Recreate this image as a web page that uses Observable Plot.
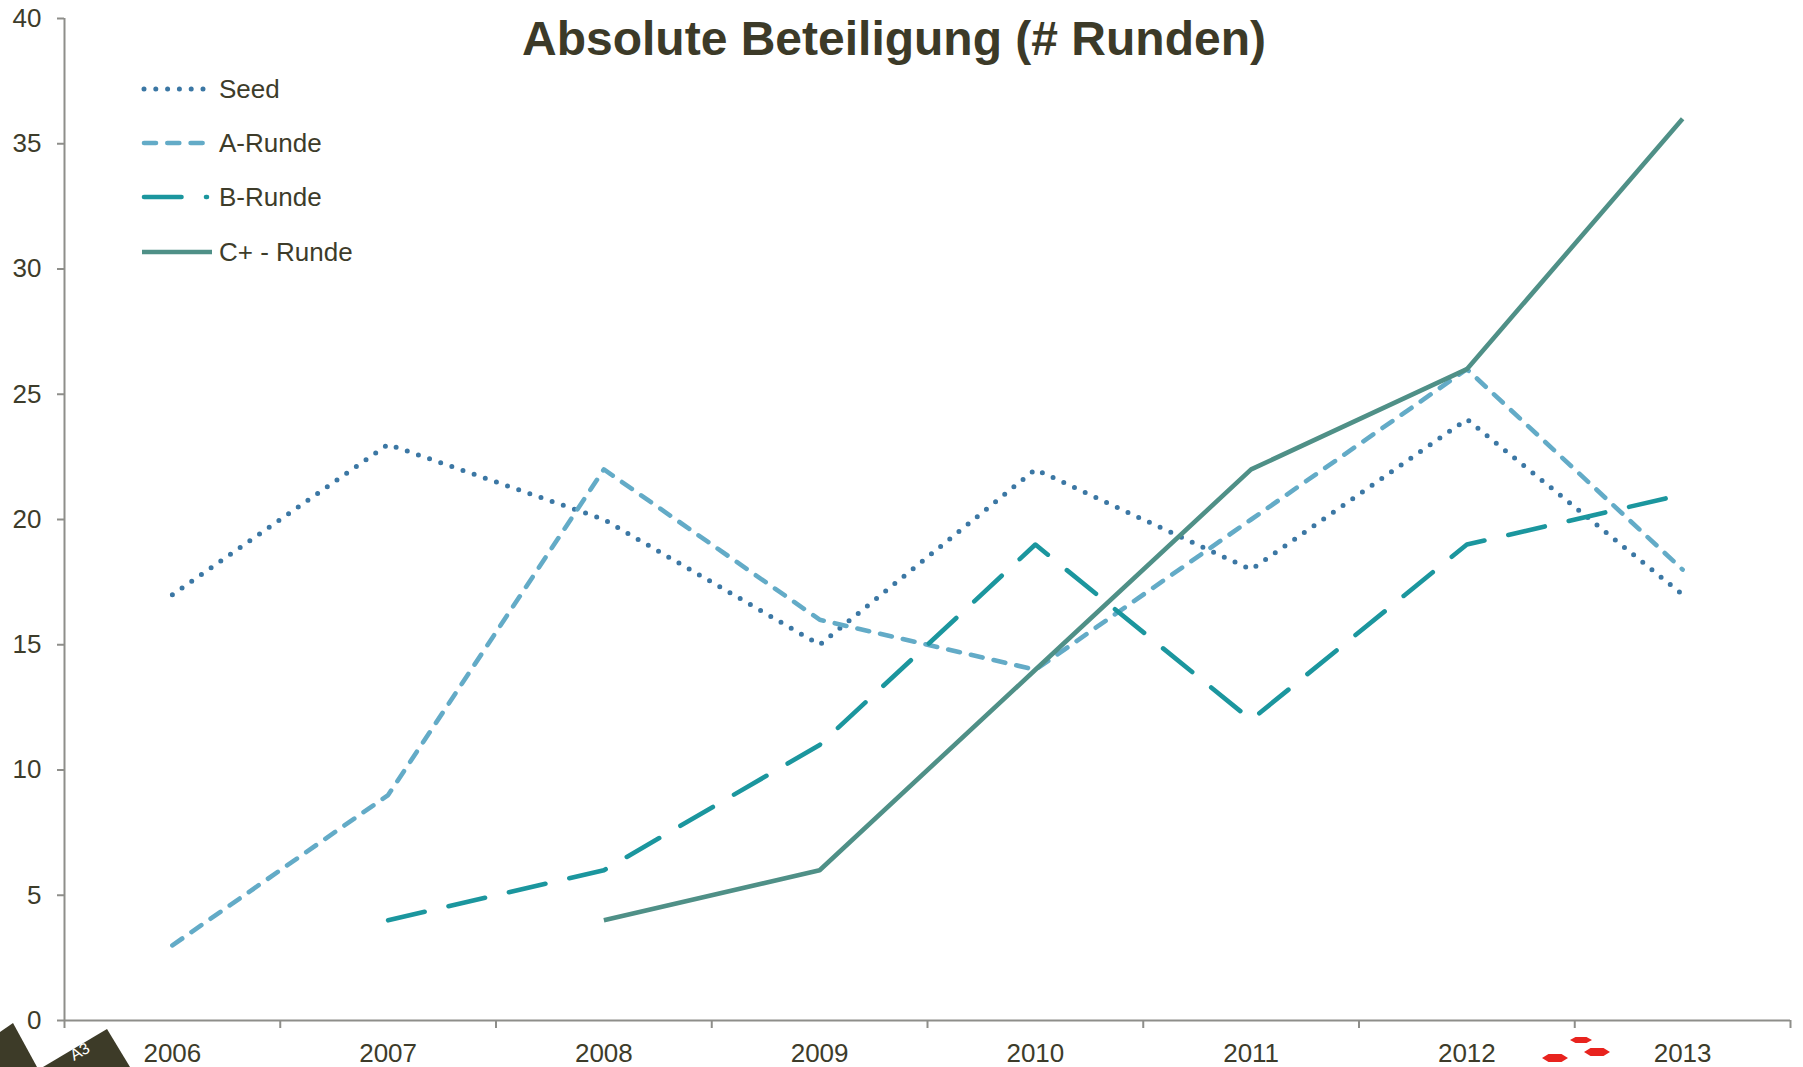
<!DOCTYPE html>
<html>
<head>
<meta charset="utf-8">
<script src="https://cdn.jsdelivr.net/npm/d3@7"></script>
<script src="https://cdn.jsdelivr.net/npm/@observablehq/plot@0.6"></script>
<style>
  html, body { margin: 0; padding: 0; background: #ffffff; }
  #wrap { position: relative; width: 1803px; height: 1067px; overflow: hidden; background: #ffffff; }
  #overlay { position: absolute; left: 0; top: 0; pointer-events: none; }
  #chart svg { display: block; }
</style>
</head>
<body>
<div id="wrap">
  <div id="chart"></div>
  <svg id="overlay" width="1803" height="1067"></svg>
</div>
<script>
// ---- data ----
const title = "Absolute Beteiligung (# Runden)";
const years = [2006, 2007, 2008, 2009, 2010, 2011, 2012, 2013];
const seriesNames = ["Seed", "A-Runde", "B-Runde", "C+ - Runde"];
const seed   = [17, 23, 20, 15, 22, 18, 24, 17];
const aRunde = [3, 9, 22, 16, 14, 20, 26, 18];
const bRunde = [null, 4, 6, 11, 19, 12, 19, 21];
const cRunde = [null, null, 4, 6, 14, 22, 26, 36];
const yTicks = [0, 5, 10, 15, 20, 25, 30, 35, 40];

// ---- styles ----
const axisColor = "#8e8e8a";
const textColor = "#3d3c2a";
const styles = [
  {color: "#3b77a4", dash: "0,11.8", width: 5},
  {color: "#63abc7", dash: "12,11.3", width: 4.6},
  {color: "#1b969e", dash: "37.5,24.5", width: 4.6},
  {color: "#4f9087", dash: null, width: 4.6}
];

const valuesBySeries = [seed, aRunde, bRunde, cRunde];
const rows = [];
valuesBySeries.forEach((vals, si) => {
  vals.forEach((v, i) => {
    if (v != null) rows.push({series: seriesNames[si], year: years[i], value: v});
  });
});

const boundaries = years.map(y => y - 0.5).concat([years[years.length - 1] + 0.5]);

const lineMarks = seriesNames.map((name, si) => Plot.line(rows.filter(r => r.series === name), {
  x: "year", y: "value",
  stroke: styles[si].color,
  strokeWidth: styles[si].width,
  strokeDasharray: styles[si].dash || undefined,
  strokeLinecap: styles[si].dash ? "round" : "butt",
  strokeLinejoin: "round"
}));

const chart = Plot.plot({
  width: 1803,
  height: 1067,
  marginTop: 18,
  marginBottom: 47,
  marginLeft: 64,
  marginRight: 13,
  style: {
    fontFamily: "'Liberation Sans', Arial, Helvetica, sans-serif",
    fontSize: "26px",
    color: textColor,
    background: "#ffffff",
    overflow: "visible"
  },
  x: {type: "linear", domain: [boundaries[0], boundaries[boundaries.length - 1]]},
  y: {domain: [0, 40]},
  marks: [
    Plot.ruleY([0], {stroke: axisColor, strokeWidth: 2}),
    Plot.ruleX([boundaries[0]], {stroke: axisColor, strokeWidth: 2}),
    Plot.axisY({ticks: yTicks, tickSize: 7, tickPadding: 16, stroke: axisColor, strokeWidth: 2,
                fill: textColor, fontSize: 26, label: null, tickFormat: d => String(d)}),
    Plot.axisX({ticks: boundaries, tickSize: 8, tickFormat: () => "", stroke: axisColor,
                strokeWidth: 2, label: null}),
    Plot.axisX({ticks: years, tickSize: 0, tickPadding: 23, tickFormat: d => String(d),
                fill: textColor, fontSize: 26, label: null}),
    ...lineMarks
  ]
});
document.getElementById("chart").appendChild(chart);

// ---- overlay: title, legend, slide decorations ----
const ov = d3.select("#overlay");

ov.append("text")
  .attr("x", 522).attr("y", 55)
  .attr("font-family", "'Liberation Sans', Arial, Helvetica, sans-serif")
  .attr("font-weight", "bold")
  .attr("font-size", 48)
  .attr("fill", "#3c3a28")
  .text(title);

const legendY = [89, 143, 197, 252];
const legendEnd = [204, 204, 207, 212];
seriesNames.forEach((name, i) => {
  const st = styles[i];
  const ln = ov.append("line")
    .attr("x1", st.dash ? 144 : 142).attr("x2", legendEnd[i])
    .attr("y1", legendY[i]).attr("y2", legendY[i])
    .attr("stroke", st.color)
    .attr("stroke-width", st.width)
    .attr("stroke-linecap", st.dash ? "round" : "butt");
  if (st.dash) ln.attr("stroke-dasharray", st.dash);
  ov.append("text")
    .attr("x", 219).attr("y", legendY[i] + 9.3)
    .attr("font-family", "'Liberation Sans', Arial, Helvetica, sans-serif")
    .attr("font-size", 26)
    .attr("fill", textColor)
    .text(name);
});

// slide decorations (bottom-left tabs, red marks)
ov.append("polygon").attr("points", "0,1032 13,1023 37,1067 0,1067").attr("fill", "#3d3b28");
ov.append("polygon").attr("points", "43,1067 107,1029 130,1067").attr("fill", "#3d3b28");
ov.append("text").attr("x", 74).attr("y", 1061)
  .attr("transform", "rotate(-30 74 1061)")
  .attr("font-family", "'Liberation Sans', Arial, sans-serif")
  .attr("font-size", 16).attr("fill", "#ffffff").text("A3");
const hex = (cx, cy, w, h) => {
  const pts = [[cx - w/2, cy], [cx - w/4, cy - h/2], [cx + w/4, cy - h/2], [cx + w/2, cy], [cx + w/4, cy + h/2], [cx - w/4, cy + h/2]];
  return pts.map(p => p.join(",")).join(" ");
};
ov.append("polygon").attr("points", hex(1555, 1058, 26, 8)).attr("fill", "#e8231e");
ov.append("polygon").attr("points", hex(1581, 1040, 22, 6)).attr("fill", "#e8231e");
ov.append("polygon").attr("points", hex(1597, 1052, 26, 8)).attr("fill", "#e8231e");
</script>
</body>
</html>
